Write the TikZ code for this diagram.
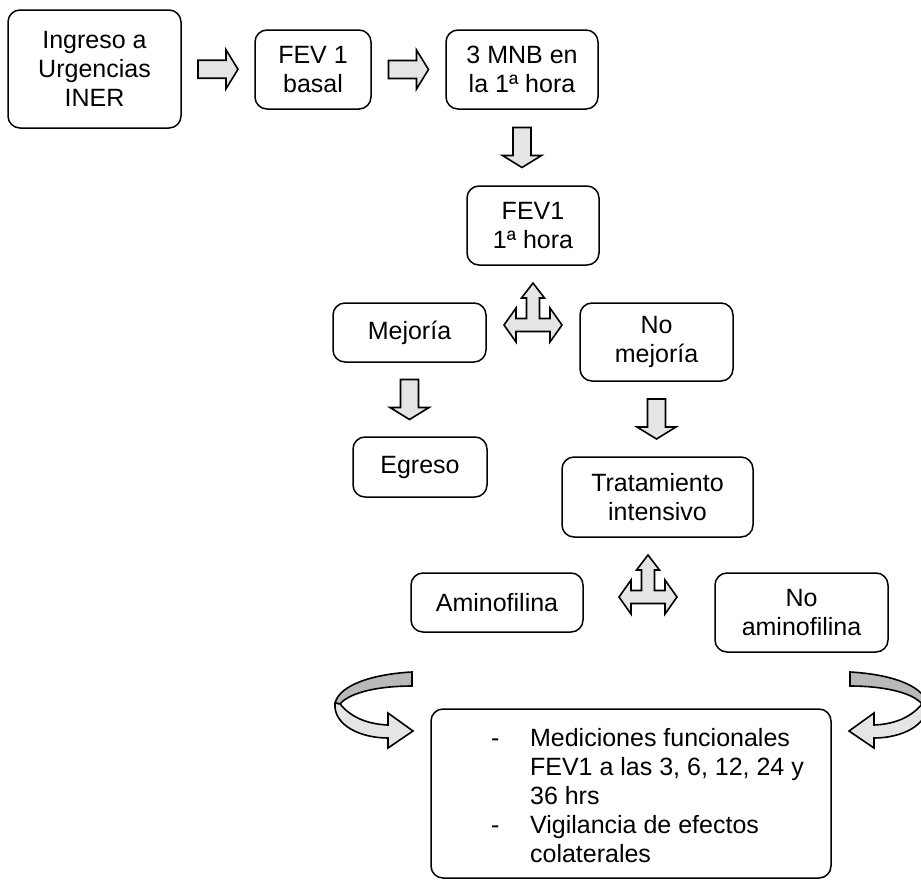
\documentclass[tikz,border=0pt]{standalone}
\usepackage{fontspec}
\setmainfont{Liberation Sans}
\usetikzlibrary{calc}

\tikzset{
  caja/.style={draw, line width=1.5pt, rounded corners=12pt, align=center, inner sep=0pt},
  relleno/.style={draw, line width=1.6pt, fill=gray!20, line join=miter},
  pics/flecha/.style={code={
    \draw[relleno] (-20,-9) -- (8,-9) -- (8,-19.5) -- (20,0) -- (8,19.5) -- (8,9) -- (-20,9) -- cycle;
  }},
  pics/triple/.style={code={
    \draw[relleno] (-29,0) -- (-17,-17) -- (-17,-6.5) -- (-6.5,-6.5) -- (-6.5,-27) -- (-11.5,-27)
      -- (0,-42) -- (11.5,-27) -- (6.5,-27) -- (6.5,-6.5) -- (17,-6.5) -- (17,-17) -- (29,0)
      -- (17,17) -- (17,6.5) -- (-17,6.5) -- (-17,17) -- cycle;
  }},
  pics/giro/.style={code={
    % cara de atras
    \draw[relleno, fill=gray!55] (-1,-59) .. controls (-38,-57) and (-73,-47) .. (-78,-28)
      -- (-73,-27) .. controls (-63,-39) and (-33,-45) .. (-1,-45) -- cycle;
    % cara de adelante
    \draw[relleno] (-73,-27) .. controls (-63,-15) and (-48,-7) .. (-25,-6) -- (-25,-18) -- (0,0)
      -- (-25,17) -- (-25,7) .. controls (-53,7) and (-80,-6) .. (-78,-28) -- cycle;
  }},
}

\begin{document}
\begin{tikzpicture}[x=1pt, y=-1pt, font=\fontsize{25}{29}\selectfont]
		\path[use as bounding box, fill=white] (0,0) rectangle (921,879);

		\node[caja, minimum width=173pt, minimum height=118pt] (ingreso) at (94.5,69) {Ingreso a\\Urgencias\\INER};
		\node[caja, minimum width=116pt, minimum height=79pt] (basal) at (313,69.5) {FEV 1\\basal};
		\node[caja, minimum width=152pt, minimum height=79pt] (mnb) at (522,69.5) {3 MNB en\\la 1ª hora};
		\node[caja, minimum width=132pt, minimum height=79pt] (fevhora) at (533,225.5) {FEV1\\1ª hora};
		\node[caja, minimum width=153pt, minimum height=59pt] (mejoria) at (409.5,332.5) {Mejoría};
		\node[caja, minimum width=153pt, minimum height=78pt] (nomejoria) at (656.5,342) {No\\mejoría};
		\node[caja, minimum width=134pt, minimum height=60pt] (egreso) at (420,467) {Egreso};
		\node[caja, minimum width=191pt, minimum height=80pt] (tratamiento) at (657.5,497) {Tratamiento\\intensivo};
		\node[caja, minimum width=172pt, minimum height=59pt] (amino) at (497,602.5) {Aminofilina};
		\node[caja, minimum width=173pt, minimum height=79pt] (noamino) at (801.5,612.5) {No\\aminofilina};
		\node[caja, minimum width=400pt, minimum height=169pt] (mediciones) at (631,793.5) {%
			\begin{tabular}{@{\hspace{33pt}}p{39pt}@{}l@{}}
				\rule{0pt}{30pt}- & Mediciones funcionales\\
				  & FEV1 a las 3, 6, 12, 24 y\\
				  & 36 hrs\\
				- & Vigilancia de efectos\\
				  & colaterales
			\end{tabular}};

		% flechas rectas
		\pic at ($(ingreso.east)!0.5!(basal.west)$) {flecha};
		\pic at ($(basal.east)!0.5!(mnb.west)$) {flecha};
		\pic[rotate=-90] at ($(mnb.south)!0.5!(mnb.south |- fevhora.north)$) {flecha};
		\pic[rotate=-90] at ($(mejoria.south)!0.5!(mejoria.south |- egreso.north)$) {flecha};
		\pic[rotate=-90] at ($(nomejoria.south)!0.5!(nomejoria.south |- tratamiento.north)$) {flecha};

		% flechas de tres puntas
		\pic at (533,325) {triple};
		\pic at (648,597) {triple};

		% flechas curvas
		\pic at (413,731) {giro};
		\pic[xscale=-1] at (849,731) {giro};
	\end{tikzpicture}
\end{document}
